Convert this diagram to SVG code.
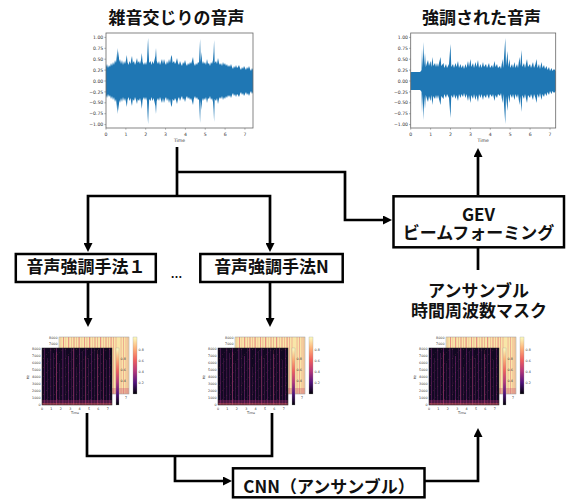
<svg xmlns="http://www.w3.org/2000/svg" xmlns:xlink="http://www.w3.org/1999/xlink" width="566" height="501" viewBox="0 0 566 501">
<style>
.box{fill:#fff;stroke:#000;stroke-width:2.5}
.lbl{font-family:"Noto Sans CJK JP","Noto Sans",sans-serif;font-weight:700;font-size:17px;fill:#111;text-anchor:middle}
.conn path{fill:none;stroke:#000;stroke-width:2.7}
.ax{fill:none;stroke:#666;stroke-width:0.8}
.tick{stroke:#666;stroke-width:0.5}
.tk{font-family:"DejaVu Sans",sans-serif;font-size:4.6px;fill:#333}
.tks{font-family:"DejaVu Sans",sans-serif;font-size:3.3px;fill:#333}
.wv{fill:#1f77b4}
.bs{fill:#e0566b}
.fs{fill:#8a2a82}
.fo{fill:#e8605e}
</style>
<defs>
<marker id="ah" viewBox="0 0 10 10" refX="5" refY="5" markerWidth="9" markerHeight="9" markerUnits="userSpaceOnUse" orient="auto"><path d="M0,0 L10,5 L0,10 z" fill="#000"/></marker>
<linearGradient id="magma" x1="0" y1="0" x2="0" y2="1">
<stop offset="0" stop-color="#fcfdbf"/><stop offset="0.2" stop-color="#feb078"/><stop offset="0.4" stop-color="#f1605d"/><stop offset="0.6" stop-color="#b5367a"/><stop offset="0.8" stop-color="#51127c"/><stop offset="1" stop-color="#000004"/>
</linearGradient>
<pattern id="speck" patternUnits="userSpaceOnUse" width="11" height="9">
<rect x="1" y="1" width="0.6" height="0.6" fill="#f07a5a"/><rect x="4.3" y="6.2" width="0.6" height="0.6" fill="#d84a6a"/><rect x="8.6" y="2.4" width="0.5" height="0.5" fill="#f9a06a"/><rect x="6.2" y="4" width="0.5" height="0.5" fill="#c03a76"/><rect x="2.5" y="7.8" width="0.5" height="0.5" fill="#e8605e"/>
</pattern>
<path id="w1" class="wv" d="M106,81 L106,67 107,64 108,68 109,65 110,67 111,63 112,66 113,62 114,65 115,60 116,63 116.8,56 117.4,48 118,58 118.6,51 119.2,62 120,59 121,64 122,60 123,65 124,61 125,64 126,60 126.8,55 127.5,62 128.5,65 129.5,61 130.5,64 131.3,59 132,56 132.8,63 134,61 135,65 136,62 137,58 137.8,63 139,61 140,64 141,60 141.8,53 142.6,62 144,65 145,62 146,65 147,61 147.7,45 148.1,38 148.6,52 149.2,63 150.5,61 151.5,65 152.5,61 153.5,64 154.5,60 155.4,56 156,48 156.7,61 158,64 159,61 160,65 161,62 162,59 163,64 164,59 165,63 166,65 167,61 168,64 169,59 170,63 171,57 171.8,55 172.6,63 174,61 175,64 176,62 177,58 178,63 179,65 180,61 181,64 182,66 183,62 184,64 185,60 186,64 187,66 188,63 189,65 190,62 191,64 192,61 193,57 193.8,63 195,66 196,63 197,65 198,62 199,63 199.6,50 200.1,39 200.7,62 201.5,52 202.2,64 203,61 204,64 205,62 206,65 207,59 208,64 209,63 210,66 211,62 212,64 213,60 213.6,52 214.1,40 214.7,63 216,61 217,64 218,58 219,63 220,65 221,63 222,66 223,62 224,65 225,63 226,66 227,64 228,67 229,65 230,67 231,64 232,67 233,69 234,66 235,68 236,65 237,68 238,67 239,65 240,68 241,70 242,67 243,69 244,66 245,68 246,70 247,67 248,69 249,66 250,69 251,71 252,68 253,70 253,81 Z"/>
<path id="w2" class="wv" d="M410.7,81 L410.7,72 420,72 421,71 421.5,70 422,49 422.6,68 423.5,42 424.2,66 425,53 425.8,67 427,63 428,60 429,66 430.5,61 431.3,67 432.5,57 433.3,66 435,63 436,67 437,63 438,67 440.5,57 441.3,66 443.5,63 444.3,68 446,64 447,68 449,64 450.5,44 451.3,67 453,64 454,68 455.5,63 456.5,67 458,61 459,68 460.5,64 461.5,68 463,65 464,69 465.5,64 466.5,68 468,61 469,67 470.5,59 471.3,67 473,63 474,68 475.5,62 476.5,67 478,60 479,68 480.5,64 481.5,68 483,62 484,67 486,64 487,68 489,63 490,68 492,65 493,68 494.5,61 495.5,67 497,64 498,68 500,66 501,69 502.5,59 503.3,68 505.3,38 506,66 507.5,51 508.3,67 509.5,59 510.3,68 512,64 513,68 514.5,62 515.5,68 517,64 518,68 519.5,57 520.3,66 521.5,50 522.3,67 524,63 525,68 527,59 528,67 530,64 531,68 533,62 534,68 535.5,64 536.5,59 537.5,68 539,64 540,69 541.5,62 542.5,68 544,65 545,69 546.5,66 547.5,70 549,67 550,71 551.5,68 552.5,71 554,69 555.7,71 555.7,81 Z"/>
<g id="specFig">
<rect x="17" y="-11" width="70" height="57" fill="#f8e6a8"/>
<rect class="bs" x="18.5" y="-11" width="0.7" height="57" opacity=".35"/>
<rect class="bs" x="21" y="-11" width="1" height="20" opacity=".6"/>
<rect class="bs" x="23.5" y="-11" width="0.6" height="57" opacity=".3"/>
<rect class="bs" x="26" y="-11" width="1.2" height="30" opacity=".55"/>
<rect class="bs" x="29" y="-11" width="0.7" height="57" opacity=".4"/>
<rect class="bs" x="31.5" y="-11" width="1" height="15" opacity=".6"/>
<rect class="bs" x="34" y="-11" width="0.8" height="57" opacity=".35"/>
<rect class="bs" x="36.5" y="-11" width="1.2" height="25" opacity=".6"/>
<rect class="bs" x="39.5" y="-11" width="0.7" height="57" opacity=".3"/>
<rect class="bs" x="42" y="-11" width="1" height="18" opacity=".55"/>
<rect class="bs" x="44.5" y="-11" width="0.8" height="57" opacity=".4"/>
<rect class="bs" x="47" y="-11" width="1.3" height="28" opacity=".6"/>
<rect class="bs" x="50" y="-11" width="0.7" height="57" opacity=".3"/>
<rect class="bs" x="52.5" y="-11" width="1" height="20" opacity=".55"/>
<rect class="bs" x="55" y="-11" width="0.8" height="57" opacity=".45"/>
<rect class="bs" x="58" y="-11" width="1.2" height="24" opacity=".6"/>
<rect class="bs" x="61" y="-11" width="0.7" height="57" opacity=".35"/>
<rect class="bs" x="63.5" y="-11" width="1" height="16" opacity=".55"/>
<rect class="bs" x="66" y="-11" width="0.8" height="57" opacity=".4"/>
<rect class="bs" x="68.5" y="-11" width="1.2" height="22" opacity=".55"/>
<rect class="bs" x="71" y="-11" width="0.8" height="57" opacity=".5"/>
<rect class="bs" x="73.5" y="-11" width="1" height="57" opacity=".35"/>
<rect class="bs" x="78.5" y="-11" width="1.1" height="57" opacity=".3"/>
<rect class="bs" x="81" y="-11" width="0.8" height="57" opacity=".5"/>
<rect class="bs" x="83.5" y="-11" width="1" height="57" opacity=".35"/>
<rect class="bs" x="85.5" y="-11" width="0.8" height="57" opacity=".45"/>
<rect x="70" y="40" width="17" height="6" fill="#c4406e" opacity=".3"/>
<rect x="17" y="-11" width="70" height="57" fill="none" stroke="#999" stroke-width="0.5"/>
<rect x="91" y="-11" width="4" height="57" fill="url(#magma)" stroke="#999" stroke-width="0.3"/>
<text class="tks" x="96.5" y="3">0.8</text><text class="tks" x="96.5" y="14">0.6</text><text class="tks" x="96.5" y="25">0.4</text><text class="tks" x="96.5" y="36">0.2</text>
<text class="tks" x="15.5" y="-9" text-anchor="end">8000</text><text class="tks" x="15.5" y="-3" text-anchor="end">7000</text>
<text class="tks" x="84" y="51" text-anchor="middle">7</text>
<rect x="0" y="0" width="70" height="57" fill="#120822"/>
<rect class="fs" x="2" y="0" width="1" height="57" opacity=".45"/>
<rect class="fs" x="5" y="10" width="0.8" height="47" opacity=".35"/>
<rect class="fs" x="8" y="0" width="1.2" height="57" opacity=".3"/>
<rect class="fs" x="11" y="5" width="0.7" height="52" opacity=".45"/>
<rect class="fs" x="14" y="0" width="1" height="57" opacity=".6"/>
<rect class="fs" x="17" y="15" width="0.8" height="42" opacity=".35"/>
<rect class="fs" x="20" y="0" width="1.5" height="57" opacity=".4"/>
<rect class="fs" x="23" y="0" width="0.8" height="57" opacity=".25"/>
<rect class="fs" x="26" y="8" width="1" height="49" opacity=".5"/>
<rect class="fs" x="29" y="0" width="0.8" height="57" opacity=".35"/>
<rect class="fs" x="31" y="0" width="1.3" height="57" opacity=".55"/>
<rect class="fs" x="34" y="20" width="0.7" height="37" opacity=".35"/>
<rect class="fs" x="37" y="0" width="1" height="57" opacity=".45"/>
<rect class="fs" x="40" y="3" width="0.8" height="54" opacity=".3"/>
<rect class="fs" x="43" y="0" width="1.2" height="57" opacity=".5"/>
<rect class="fs" x="46" y="10" width="0.8" height="47" opacity=".35"/>
<rect class="fs" x="49" y="0" width="1" height="57" opacity=".45"/>
<rect class="fs" x="52" y="0" width="0.8" height="57" opacity=".3"/>
<rect class="fs" x="55" y="6" width="1.2" height="51" opacity=".5"/>
<rect class="fs" x="58" y="0" width="0.8" height="57" opacity=".35"/>
<rect class="fs" x="61" y="0" width="1" height="57" opacity=".45"/>
<rect class="fs" x="64" y="12" width="0.8" height="45" opacity=".35"/>
<rect class="fs" x="67" y="0" width="1" height="57" opacity=".4"/>
<rect class="fo" x="14.3" y="4" width="0.5" height="53" opacity=".4"/>
<rect class="fo" x="31.5" y="0" width="0.5" height="57" opacity=".35"/>
<rect class="fo" x="43.5" y="8" width="0.5" height="49" opacity=".35"/>
<rect class="fo" x="55.4" y="2" width="0.5" height="55" opacity=".4"/>
<rect class="fo" x="61.3" y="0" width="0.5" height="57" opacity=".3"/>
<rect x="0" y="0" width="70" height="57" fill="url(#speck)" opacity=".45"/>
<rect x="0" y="52" width="70" height="5" fill="#b73779" opacity=".35"/>
<rect x="0" y="55" width="70" height="2" fill="#f8765c" opacity=".35"/>
<rect x="0" y="0" width="70" height="57" fill="none" stroke="#222" stroke-width="0.5"/>
<rect x="74" y="0" width="3" height="57" fill="url(#magma)" stroke="#999" stroke-width="0.3"/>
<text class="tks" x="78.5" y="12">0.8</text><text class="tks" x="78.5" y="23">0.6</text><text class="tks" x="78.5" y="34">0.4</text>
<g class="tks" text-anchor="end">
<text x="-1.5" y="2">8000</text><text x="-1.5" y="9">7000</text><text x="-1.5" y="16">6000</text><text x="-1.5" y="23">5000</text><text x="-1.5" y="30">4000</text><text x="-1.5" y="37">3000</text><text x="-1.5" y="44">2000</text><text x="-1.5" y="51">1000</text><text x="-1.5" y="58">0</text>
</g>
<g class="tks" text-anchor="middle">
<text x="0" y="61.5">0</text><text x="9.4" y="61.5">1</text><text x="18.8" y="61.5">2</text><text x="28.2" y="61.5">3</text><text x="37.6" y="61.5">4</text><text x="47" y="61.5">5</text><text x="56.4" y="61.5">6</text><text x="65.8" y="61.5">7</text>
<text x="33" y="66">Time</text>
<text x="0" y="0" transform="translate(-13,29) rotate(-90)">Hz</text>
</g>
</g>
</defs>
<rect width="566" height="501" fill="#fff"/>

<g id="noisy-speech">
<text class="lbl" x="176.5" y="23.8">雑音交じりの音声</text>
<use href="#w1"/>
<use href="#w1" transform="matrix(1 0 0 -1 0 162)"/>
<rect class="ax" x="106" y="33" width="147" height="95"/>
<path class="tick" d="M104.3,37.4H106M104.3,48.3H106M104.3,59.2H106M104.3,70.1H106M104.3,81H106M104.3,91.9H106M104.3,102.8H106M104.3,113.7H106M104.3,124.6H106M106,128V129.7M125.85,128V129.7M145.7,128V129.7M165.55,128V129.7M185.4,128V129.7M205.25,128V129.7M225.1,128V129.7M244.95,128V129.7"/>
<g class="tk" text-anchor="end">
<text x="103.3" y="39">1.00</text><text x="103.3" y="49.9">0.75</text><text x="103.3" y="60.8">0.50</text><text x="103.3" y="71.7">0.25</text><text x="103.3" y="82.6">0.00</text><text x="103.3" y="93.5">−0.25</text><text x="103.3" y="104.4">−0.50</text><text x="103.3" y="115.3">−0.75</text><text x="103.3" y="126.2">−1.00</text>
</g>
<g class="tk" text-anchor="middle">
<text x="106" y="135.5">0</text><text x="125.85" y="135.5">1</text><text x="145.7" y="135.5">2</text><text x="165.55" y="135.5">3</text><text x="185.4" y="135.5">4</text><text x="205.25" y="135.5">5</text><text x="225.1" y="135.5">6</text><text x="244.95" y="135.5">7</text>
<text x="179.5" y="142">Time</text>
</g>
</g>

<g id="enhanced-speech">
<text class="lbl" x="481.5" y="23.8">強調された音声</text>
<use href="#w2"/>
<use href="#w2" transform="matrix(1 0 0 -1 0 162)"/>
<rect class="ax" x="410.7" y="33" width="145" height="95"/>
<path class="tick" d="M409,37.4H410.7M409,48.3H410.7M409,59.2H410.7M409,70.1H410.7M409,81H410.7M409,91.9H410.7M409,102.8H410.7M409,113.7H410.7M409,124.6H410.7M410.7,128V129.7M430.6,128V129.7M450.5,128V129.7M470.4,128V129.7M490.3,128V129.7M510.2,128V129.7M530.1,128V129.7M550,128V129.7"/>
<g class="tk" text-anchor="end">
<text x="408" y="39">1.00</text><text x="408" y="49.9">0.75</text><text x="408" y="60.8">0.50</text><text x="408" y="71.7">0.25</text><text x="408" y="82.6">0.00</text><text x="408" y="93.5">−0.25</text><text x="408" y="104.4">−0.50</text><text x="408" y="115.3">−0.75</text><text x="408" y="126.2">−1.00</text>
</g>
<g class="tk" text-anchor="middle">
<text x="410.7" y="135.5">0</text><text x="430.6" y="135.5">1</text><text x="450.5" y="135.5">2</text><text x="470.4" y="135.5">3</text><text x="490.3" y="135.5">4</text><text x="510.2" y="135.5">5</text><text x="530.1" y="135.5">6</text><text x="550" y="135.5">7</text>
<text x="483.2" y="142">Time</text>
</g>
</g>

<g id="connectors" class="conn">
<path d="M177,147V196"/>
<path d="M177,172H345V220H387.5" marker-end="url(#ah)"/>
<path d="M177,196H88V247.5" marker-end="url(#ah)"/>
<path d="M177,196H270V247.5" marker-end="url(#ah)"/>
<path d="M478,195V152.5" marker-end="url(#ah)"/>
<path d="M478,270V243.5" marker-end="url(#ah)"/>
<path d="M88,283V322.5" marker-end="url(#ah)"/>
<path d="M270,283V322.5" marker-end="url(#ah)"/>
<path d="M87,413V456H272V413"/>
<path d="M175,456V481H227.5" marker-end="url(#ah)"/>
<path d="M425,481H478V432.5" marker-end="url(#ah)"/>
</g>

<g id="method-1">
<rect class="box" x="15.8" y="254" width="140" height="28"/>
<text class="lbl" x="86" y="272.5">音声強調手法１</text>
</g>
<g id="ellipsis">
<text x="176.5" y="277.5" font-family="Liberation Sans, sans-serif" font-weight="700" font-size="12" text-anchor="middle" fill="#111">…</text>
</g>
<g id="method-N">
<rect class="box" x="200.3" y="254" width="142.4" height="28"/>
<text class="lbl" x="271.5" y="272.5">音声強調手法N</text>
</g>
<g id="gev">
<rect class="box" x="393.5" y="196.3" width="170.5" height="51"/>
<text class="lbl" x="478.5" y="220.5">GEV</text>
<text class="lbl" x="478.5" y="239">ビームフォーミング</text>
</g>
<g id="mask-label">
<text class="lbl" x="478.5" y="297">アンサンブル</text>
<text class="lbl" x="479" y="317">時間周波数マスク</text>
</g>
<g id="spec-1"><use href="#specFig" transform="translate(42,348)"/></g>
<g id="spec-N"><use href="#specFig" transform="translate(218,348)"/></g>
<g id="spec-mask"><use href="#specFig" transform="translate(429,348)"/></g>
<g id="cnn">
<rect class="box" x="233" y="468.3" width="191.5" height="29"/>
<text class="lbl" x="329" y="493">CNN（アンサンブル）</text>
</g>
</svg>
